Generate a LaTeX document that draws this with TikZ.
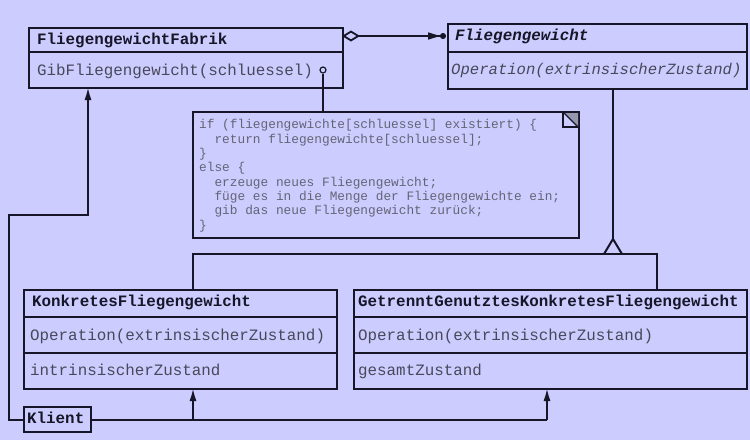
\documentclass[tikz,border=0pt]{standalone}
\usepackage{fontspec}
\setmonofont{Liberation Mono}
\usetikzlibrary{arrows.meta}
\definecolor{bg}{RGB}{204,204,255}
\definecolor{ink}{RGB}{22,22,40}
\definecolor{optext}{RGB}{72,72,90}
\definecolor{notetext}{RGB}{100,100,118}
\definecolor{earfill}{RGB}{150,150,175}
\tikzset{
  classbox/.style={draw=ink, line width=2.2pt, anchor=north west, inner sep=0pt},
  divider/.style={draw=ink, line width=2pt},
  cname/.style={anchor=base west, inner sep=0pt, text=ink, font=\fontsize{15.85}{18}\selectfont\ttfamily\bfseries},
  cop/.style={anchor=base west, inner sep=0pt, text=optext, font=\fontsize{15.85}{18}\selectfont\ttfamily},
  conn/.style={draw=ink, line width=2pt},
  navarrow/.style={conn, -{Latex[length=13pt, width=7pt]}},
  notebox/.style={draw=ink, line width=1.2pt},
  notetxt/.style={anchor=north west, inner sep=0pt, text=notetext, align=left,
    font=\fontsize{12.8}{14.3}\selectfont\ttfamily},
}
\begin{document}
\begin{tikzpicture}[x=1pt, y=-1pt]
\useasboundingbox[fill=bg] (0,0) rectangle (750,440);

% FliegengewichtFabrik
\node[classbox, minimum width=314pt, minimum height=60pt] (fab) at (28,27) {};
\draw[divider] (28,52) -- (342,52);
\node[cname] (fabname) at (37,44) {FliegengewichtFabrik};
\node[cop] (fabop) at (37,75) {GibFliegengewicht(schluessel)};

% Fliegengewicht
\node[classbox, minimum width=299pt, minimum height=65pt] (fw) at (447,23) {};
\draw[divider] (447,52) -- (746,52);
\node[cname, font=\fontsize{15.85}{18}\selectfont\ttfamily\bfseries\itshape] (fwname) at (455,40) {Fliegengewicht};
\node[cop, font=\fontsize{15.6}{18}\selectfont\ttfamily\itshape] (fwop) at (451,74) {Operation(extrinsischerZustand)};

% KonkretesFliegengewicht
\node[classbox, minimum width=313pt, minimum height=99pt] (kf) at (23,289) {};
\draw[divider] (23,317) -- (336,317);
\draw[divider] (23,353) -- (336,353);
\node[cname] (kfname) at (32,306) {KonkretesFliegengewicht};
\node[cop] (kfop) at (30,340) {Operation(extrinsischerZustand)};
\node[cop] (kfattr) at (30,375) {intrinsischerZustand};

% GetrenntGenutztesKonkretesFliegengewicht
\node[classbox, minimum width=393pt, minimum height=99pt] (gg) at (353,289) {};
\draw[divider] (353,317) -- (746,317);
\draw[divider] (353,353) -- (746,353);
\node[cname] (ggname) at (358,306) {GetrenntGenutztesKonkretesFliegengewicht};
\node[cop] (ggop) at (358,340) {Operation(extrinsischerZustand)};
\node[cop] (ggattr) at (358,375) {gesamtZustand};

% Klient
\node[classbox, minimum width=67pt, minimum height=25pt] (kl) at (23,406) {};
\node[cname] (klname) at (27,423.5) {Klient};

% Note
\node[notebox, anchor=north west, inner sep=0pt, minimum width=385pt, minimum height=125pt] (note) at (193,112) {};
\fill[earfill] (563,112) -- (578,112) -- (578,127) -- cycle;
\draw[notebox] (563,112) -- (563,127) -- (578,127);
\draw[notebox] (563,112) -- (578,127);
\draw[notebox] (note.north west) rectangle (note.south east);
\node[notetxt] (notetext) at (199,119.5) {if (fliegengewichte[schluessel] existiert) \{\\
\ \ return fliegengewichte[schluessel];\\
\}\\
else \{\\
\ \ erzeuge neues Fliegengewicht;\\
\ \ füge es in die Menge der Fliegengewichte ein;\\
\ \ gib das neue Fliegengewicht zurück;\\
\}};

% note anchor circle
\node[circle, draw=ink, line width=1.2pt, fill=bg, inner sep=0pt, minimum size=6pt] (ncirc) at (323,70) {};
\draw[notebox] (ncirc.south) -- (ncirc.south |- note.north);

% aggregation
\coordinate (aggA) at (342,36);
\coordinate (aggB) at (446,36);
\draw[draw=ink, line width=1.6pt, {Diamond[open, length=18pt, width=11pt, line width=1.8pt]}-{Triangle[length=12pt, width=7pt]Circle[length=6pt]}] (aggA) -- (aggB);

% inheritance
\coordinate (apex) at (613,239);
\coordinate (junc) at (613,254);
\coordinate (kfup) at (193,289);
\coordinate (ggup) at (657,289);
\draw[conn] (fw.south -| apex) -- (apex);
\draw[conn, line join=miter] (604,254) -- (apex) -- (622,254);
\draw[conn] (kfup) |- (junc -| kfup) -- (junc -| ggup) -- (ggup);

% Klient associations
\coordinate (klL) at (9,215);
\coordinate (kfdown) at (193,388);
\coordinate (ggdown) at (547,388);
\draw[navarrow] (kl.west) -| (klL) -| (88,87);
\draw[conn] (kl.east) -| (ggdown |- kl.east);
\draw[navarrow] (ggdown |- kl.east) -- (ggdown);
\draw[navarrow] (kfdown |- kl.east) -- (kfdown);
\end{tikzpicture}
\end{document}
